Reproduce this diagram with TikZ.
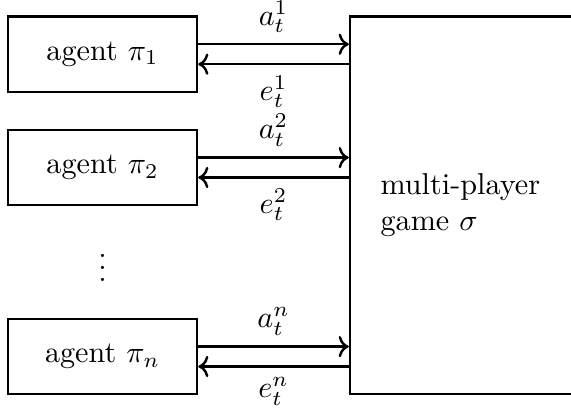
\documentclass[tikz,border=0pt]{standalone}
\usepackage{amsmath,amssymb}
\usetikzlibrary{arrows.meta,positioning,calc}

\begin{document}
\begin{tikzpicture}[
      agentbox/.style={
        rectangle, draw=black, thick, minimum width=2.2cm, minimum height=0.873cm
      },
      gamebox/.style={
        rectangle, draw=black, thick, minimum height=4.392cm,
        text width=2.288cm, inner xsep=0.356cm, align=left
      },
      flowarr/.style={->, thick}
    ]
      \useasboundingbox (0,0) rectangle (6.646,4.784);

      \node[agentbox] (a1) at (1.193,4.153) {agent $\pi_1$};
      \node[agentbox] (a2) at (1.193,2.834) {agent $\pi_2$};
      \node[anchor=base] (dots) at (1.193,1.51) {$\vdots$};
      \node[agentbox] (an) at (1.193,0.634) {agent $\pi_n$};
      \node[gamebox] (game) at (5.574,2.394) {multi-player\\game $\sigma$};

      % actions to the game, observations back
      \draw[flowarr] ([yshift=1.16mm]a1.east) -- ([yshift=1.16mm]a1.east -| game.west) node[midway, above] (l1) {$a_t^1$};
      \draw[flowarr] ([yshift=-1.16mm]a1.east -| game.west) -- ([yshift=-1.16mm]a1.east) node[midway, below] (m1) {$e_t^1$};
      \draw[flowarr] ([yshift=1.16mm]a2.east) -- ([yshift=1.16mm]a2.east -| game.west) node[midway, above] (l2) {$a_t^2$};
      \draw[flowarr] ([yshift=-1.16mm]a2.east -| game.west) -- ([yshift=-1.16mm]a2.east) node[midway, below] (m2) {$e_t^2$};
      \draw[flowarr] ([yshift=1.16mm]an.east) -- ([yshift=1.16mm]an.east -| game.west) node[midway, above] (ln) {$a_t^n$};
      \draw[flowarr] ([yshift=-1.16mm]an.east -| game.west) -- ([yshift=-1.16mm]an.east) node[midway, below] (mn) {$e_t^n$};
    \end{tikzpicture}
\end{document}
